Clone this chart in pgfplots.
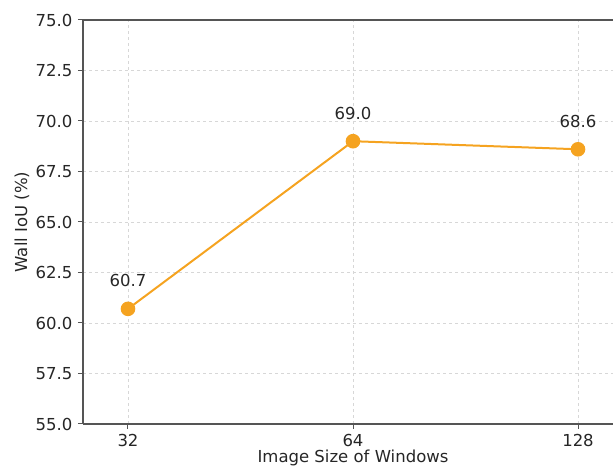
\documentclass[border=0pt]{standalone}
\usepackage{pgfplots}
\pgfplotsset{compat=1.18}
\usepackage{fontspec}
\setmainfont{DejaVu Sans}
\definecolor{lc}{RGB}{245,163,32}
\definecolor{spine}{RGB}{85,85,85}
\definecolor{gridc}{RGB}{215,215,215}
\begin{document}
\fontsize{16.5}{19.8}\selectfont
\begin{tikzpicture}
\begin{axis}[
  at={(0pt,0pt)}, anchor=south west,
  scale only axis, width=540pt, height=404pt,
  xmin=-0.2, xmax=2.2, ymin=55, ymax=75,
  xtick={0,1,2}, xticklabels={32,64,128},
  ytick={55,57.5,...,75},
  /pgf/number format/assume math mode=true,
  yticklabel style={/pgf/number format/fixed, /pgf/number format/precision=1, /pgf/number format/fixed zerofill},
  tick label style={font=\fontsize{16.5}{19.8}\selectfont, text=black!85},
  label style={font=\fontsize{16.5}{19.8}\selectfont, text=black!85},
  tick align=outside, major tick length=5pt,
  tick style={spine, line width=1pt},
  xtick pos=bottom, ytick pos=left,
  separate axis lines,
  axis x line*=box, axis y line*=left,
  axis line style={spine, line width=1.2pt, -},
  grid=major, major grid style={gridc, dashed, line width=0.6pt},
  xlabel={Image Size of Windows},
  ylabel={Wall IoU (\%)},
  every axis x label/.append style={at={(axis description cs:0.5,0)}, anchor=center, yshift=-34pt},
  every axis y label/.append style={at={(axis description cs:-0.113,0.5)}, anchor=center},
  nodes near coords,
  every node near coord/.append style={anchor=center, yshift=28pt, text=black!85, font=\fontsize{16.5}{19.8}\selectfont,
    /pgf/number format/fixed, /pgf/number format/precision=1, /pgf/number format/fixed zerofill},
]
\addplot[color=lc, line width=2pt, mark=*, mark size=6.3pt, mark options={fill=lc, draw=lc}] coordinates {(0,60.7) (1,69.0) (2,68.6)};
\end{axis}
\pgfresetboundingbox
\path[use as bounding box] (-83pt,-44pt) rectangle (530pt,424pt);
\end{tikzpicture}
\end{document}
